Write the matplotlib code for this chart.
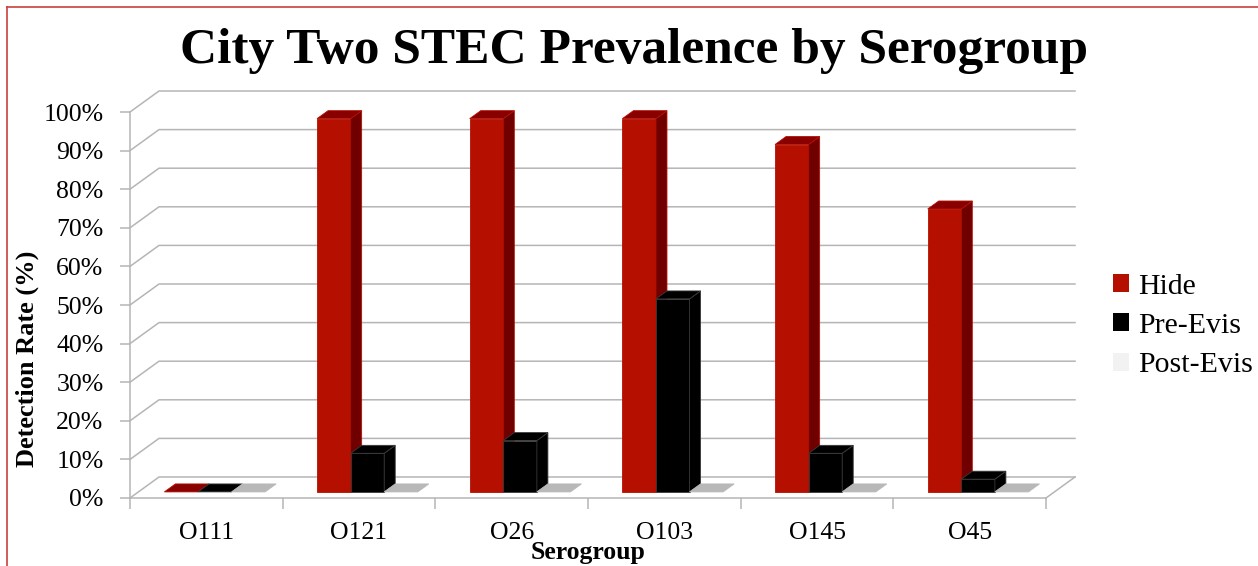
import matplotlib
matplotlib.use("Agg")
import matplotlib.pyplot as plt
from matplotlib.patches import Polygon, Patch
from matplotlib.lines import Line2D

plt.rcParams['font.family'] = ['Liberation Serif', 'DejaVu Serif']

# data (percent)
groups = ["O111", "O121", "O26", "O103", "O145", "O45"]
series = ["Hide", "Pre-Evis", "Post-Evis"]
hide = [0, 96.7, 96.7, 96.7, 90.0, 73.3]
pre_evis = [0, 10.0, 13.3, 50.0, 10.0, 3.3]
post_evis = [0, 0, 0, 0, 0, 0]
yticks = [0, 10, 20, 30, 40, 50, 60, 70, 80, 90, 100]

front_cols = ["#b50f00", "#000000", "#f2f2f2"]
side_cols = ["#700000", "#000000", "#d0d0d0"]
top_cols = ["#880000", "#000000", "#b8b8b8"]
edge_cols = ["#b50f00", "#3a3a3a", "#b8b8b8"]
legend_cols = ["#b50f00", "#000000", "#f2f2f2"]
grid_col = "#b5b5b5"

W, H = 1258, 566
fig = plt.figure(figsize=(W / 100, H / 100), dpi=100)
ax = fig.add_axes([130 / W, (H - 498) / H, 916 / W, 386 / H])
ax.set_xlim(0, len(groups))
ax.set_ylim(0, 100)

# fake 3d: full depth of the floor, and the slab the bars sit in
DX, DY = 0.19, 5.44
f0, f1 = 0.29, 0.67
gap, bw = 0.17, 0.22

# back wall grid + side wall diagonals
for y in yticks:
    ax.plot([0, DX, len(groups) + DX], [y, y + DY, y + DY], color=grid_col,
            lw=1.1, clip_on=False, zorder=1)
ax.plot([len(groups), len(groups) + DX], [0, DY], color=grid_col, lw=1.1,
        clip_on=False, zorder=1)


def bar3d(x0, v, j):
    bx = x0 + f0 * DX
    by = f0 * DY
    ddx = (f1 - f0) * DX
    ddy = (f1 - f0) * DY
    if v > 0:
        ax.bar(bx, v, width=bw, bottom=by, align='edge', color=front_cols[j],
               edgecolor=edge_cols[j], lw=0.6, zorder=3, clip_on=False)
        side = [(bx + bw, by), (bx + bw + ddx, by + ddy),
                (bx + bw + ddx, by + v + ddy), (bx + bw, by + v)]
        ax.add_patch(Polygon(side, closed=True, facecolor=side_cols[j],
                             edgecolor=edge_cols[j], lw=0.6, zorder=3, clip_on=False))
    top = [(bx, by + v), (bx + bw, by + v), (bx + bw + ddx, by + v + ddy),
           (bx + ddx, by + v + ddy)]
    ax.add_patch(Polygon(top, closed=True, facecolor=top_cols[j],
                         edgecolor=edge_cols[j], lw=0.6, zorder=3, clip_on=False))


values = [hide, pre_evis, post_evis]
for i in range(len(groups)):
    for j in range(len(series)):
        bar3d(i + gap + j * bw, values[j][i], j)

# axes styling
for s in ["top", "right"]:
    ax.spines[s].set_visible(False)
for s in ["left", "bottom"]:
    ax.spines[s].set_color(grid_col)
    ax.spines[s].set_linewidth(1.1)

ax.set_yticks(yticks)
ax.set_yticklabels([f"{v}%" for v in yticks])
ax.tick_params(axis='y', length=7, width=1.1, color=grid_col, pad=12,
               labelsize=18.5)
ax.set_xticks(range(len(groups) + 1))
ax.set_xticklabels([])
ax.set_xticks([i + 0.5 for i in range(len(groups))], minor=True)
ax.set_xticklabels(groups, minor=True)
ax.tick_params(axis='x', which='major', length=8, width=1.1, color=grid_col)
ax.tick_params(axis='x', which='minor', length=0, pad=17, labelsize=18.5)

fig.text(634 / W, 1 - 63 / H, "City Two STEC Prevalence by Serogroup",
         ha='center', va='baseline', fontsize=37, fontweight='bold')
fig.text(27 / W, 1 - 359 / H, "Detection Rate (%)", rotation=90,
         ha='center', va='center', fontsize=19, fontweight='bold')
fig.text(588 / W, 1 - 553 / H, "Serogroup", ha='center', va='center',
         fontsize=18.5, fontweight='bold')

handles = [Patch(facecolor=c, edgecolor='none') for c in legend_cols]
fig.legend(handles, series, loc='center left',
           bbox_to_anchor=(1113 / W, 1 - 326 / H), frameon=False,
           fontsize=21.5, handlelength=0.55, handleheight=0.55,
           handletextpad=0.3, labelspacing=0.45, borderpad=0, borderaxespad=0)

# thin red frame on top and left
fig.add_artist(Line2D([7 / W, 1], [1 - 7 / H, 1 - 7 / H], color="#cc4040", lw=1.2))
fig.add_artist(Line2D([7 / W, 7 / W], [0, 1 - 7 / H], color="#cc4040", lw=1.2))

fig.savefig("out.png", dpi=100)
